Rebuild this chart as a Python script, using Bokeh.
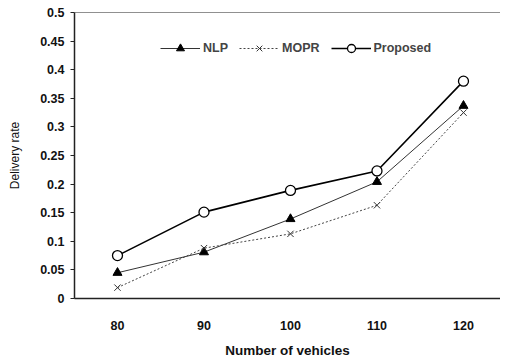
from bokeh.plotting import figure
from bokeh.models import Range1d, FixedTicker, Legend, LegendItem, Span
from bokeh.embed import file_html
from bokeh.resources import INLINE

vehicles = [80, 90, 100, 110, 120]
nlp = [0.045, 0.081, 0.139, 0.204, 0.337]
mopr = [0.019, 0.088, 0.113, 0.163, 0.325]
proposed = [0.075, 0.151, 0.189, 0.223, 0.380]
y_ticks = [0, 0.05, 0.1, 0.15, 0.2, 0.25, 0.3, 0.35, 0.4, 0.45, 0.5]

FONT = "Liberation Sans"

p = figure(width=500, height=360, output_backend="svg", toolbar_location=None,
           x_range=Range1d(75.03, 124.28), y_range=Range1d(0, 0.5),
           min_border_left=74, min_border_right=0, min_border_top=12, min_border_bottom=56)
p.outline_line_color = None
p.xgrid.visible = False
p.ygrid.visible = False
p.background_fill_color = "white"

p.add_layout(Span(location=0.5, dimension="width", line_color="#222222", line_width=1.2))

l1 = p.line(vehicles, nlp, line_color="#333333", line_width=1)
m1 = p.scatter(vehicles, nlp, marker="triangle", size=9, fill_color="black", line_color="black")
l2 = p.line(vehicles, mopr, line_color="#444444", line_width=1, line_dash="2 2")
m2 = p.scatter(vehicles, mopr, marker="x", size=9, line_color="#333333", line_width=1)
l3 = p.line(vehicles, proposed, line_color="black", line_width=1.6)
m3 = p.scatter(vehicles, proposed, marker="circle", size=10, fill_color="white", line_color="black", line_width=1.3)

legend = Legend(items=[LegendItem(label="NLP", renderers=[l1, m1]),
                       LegendItem(label="MOPR", renderers=[l2, m2]),
                       LegendItem(label="Proposed", renderers=[l3, m3])],
                orientation="horizontal", location=(86, 240),
                border_line_color=None, background_fill_alpha=0,
                label_text_font=FONT, label_text_font_size="12.5px", label_text_font_style="bold",
                glyph_width=40, spacing=11, label_standoff=3, padding=0, margin=0)
p.add_layout(legend, "center")

p.xaxis.ticker = FixedTicker(ticks=vehicles)
p.yaxis.ticker = FixedTicker(ticks=y_ticks)
p.xaxis.axis_label = "Number of vehicles"
p.yaxis.axis_label = "Delivery rate"
for ax in (p.xaxis, p.yaxis):
    ax.axis_line_color = "#222222"
    ax.axis_line_width = 1.5
    ax.major_label_text_font = FONT
    ax.major_label_text_font_size = "12.5px"
    ax.major_label_text_font_style = "bold"
    ax.major_label_text_color = "#111111"
    ax.axis_label_text_font = FONT
    ax.axis_label_text_font_size = "13.5px"
    ax.axis_label_text_font_style = "bold"
    ax.axis_label_text_color = "#111111"
    ax.minor_tick_line_color = None
p.xaxis.major_tick_line_color = None
p.xaxis.major_label_standoff = 16
p.xaxis.axis_label_standoff = 10
p.yaxis.major_tick_in = 0
p.yaxis.major_tick_out = 4
p.yaxis.major_tick_line_color = "#222222"
p.yaxis.major_label_standoff = 6
p.yaxis.axis_label_standoff = 15
p.yaxis.axis_label_text_font_size = "12px"
p.yaxis.axis_label_text_font_style = "normal"
p.yaxis.formatter.use_scientific = False

open("out.html", "w").write(file_html(p, INLINE))
